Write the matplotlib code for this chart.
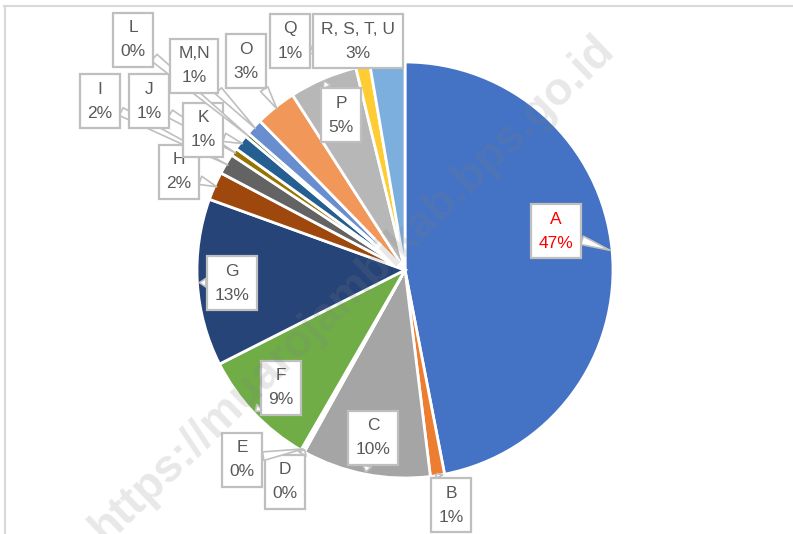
import matplotlib.pyplot as plt
from matplotlib.lines import Line2D
import numpy as np

labels = ["A", "B", "C", "D", "E", "F", "G", "H", "I", "J", "K", "L",
          "M,N", "O", "P", "Q", "R, S, T, U"]
values = [47.0, 1.1, 10.0, 0.1, 0.2, 9.2, 13.0, 2.2, 1.6, 0.6, 1.2, 0.3,
          1.3, 3.2, 5.3, 1.1, 2.7]
colors = ["#4472C4", "#ED7D31", "#A5A5A5", "#FFC000", "#5B9BD5", "#70AD47",
          "#264478", "#9E480E", "#636363", "#997300", "#255E91", "#43682B",
          "#698ED0", "#F1975A", "#B7B7B7", "#FFCD33", "#7CAFDD"]

# label box centres in pixels (x, y from top)
box_pos = [(556, 231), (451, 505), (373, 438), (285, 482), (242, 460),
           (281, 388), (232, 283), (179, 172), (100, 101), (149, 101),
           (203, 130), (133, 40), (194, 66), (246, 61), (341, 115),
           (290, 41), (358, 41)]

W, H = 793, 534
plt.rcParams['font.family'] = ['Liberation Sans', 'DejaVu Sans']
fig = plt.figure(figsize=(W / 100, H / 100), dpi=100)
ax = fig.add_axes([0, 0, 1, 1])

cx, cy, r = 405, H - 270, 208
wedges, _ = ax.pie(values, colors=colors, startangle=90, counterclock=False,
                   center=(cx, cy), radius=r, frame=True,
                   wedgeprops=dict(edgecolor="white", linewidth=2))
ax.set_xlim(0, W)
ax.set_ylim(0, H)
ax.set_aspect("equal")
ax.axis("off")

fig.text(0.445, 0.46, "https://muarojambikab.bps.go.id", rotation=44,
         ha="center", va="center", fontsize=33, fontweight="bold",
         color="gray", alpha=0.18, zorder=3)

total = sum(values)
for i, w in enumerate(wedges):
    mid = np.deg2rad((w.theta1 + w.theta2) / 2)
    tip = (cx + r * 0.99 * np.cos(mid), cy + r * 0.99 * np.sin(mid))
    bx, by = box_pos[i]
    pct = round(values[i] / total * 100)
    col = "#FF0000" if labels[i] == "A" else "#595959"
    ax.annotate(f"{labels[i]}\n{pct:.0f}%", xy=tip, xytext=(bx, H - by),
                ha="center", va="center", fontsize=12.5, color=col,
                linespacing=1.75, zorder=5,
                bbox=dict(boxstyle="square,pad=0.45", fc="white",
                          ec="#BFBFBF", lw=1.6),
                arrowprops=dict(arrowstyle="wedge,tail_width=0.5",
                                fc="white", ec="#BFBFBF", lw=1.2,
                                shrinkA=0, shrinkB=0))

fig.add_artist(Line2D([4 / W, 1], [1 - 6 / H, 1 - 6 / H], color="#D9D9D9", lw=1.5))
fig.add_artist(Line2D([5 / W, 5 / W], [1 - 6 / H, 0], color="#D9D9D9", lw=1.5))

fig.savefig("out.png", dpi=100)
